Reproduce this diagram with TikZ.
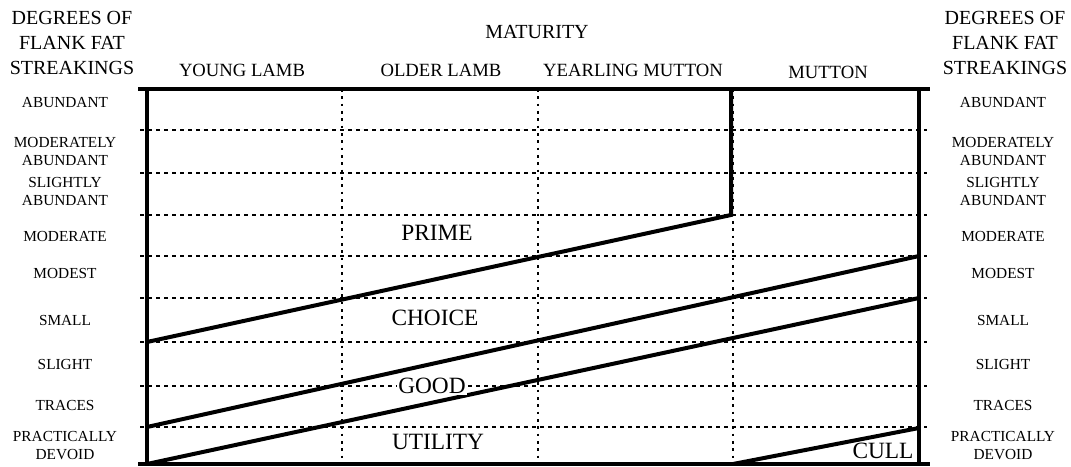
\documentclass[tikz,border=0pt]{standalone}
\usepackage{fontspec}
\setmainfont{Liberation Serif}

\begin{document}
\begin{tikzpicture}[x=0.75pt, y=-0.75pt,
    gridline/.style={line width=0.9pt, dash pattern=on 3pt off 3pt},
    divline/.style={line width=0.9pt, dash pattern=on 2pt off 3.5pt},
    heavy/.style={line width=3pt},
    headlab/.style={font=\fontsize{15}{19}\selectfont, align=center, inner sep=0pt},
    collab/.style={font=\fontsize{14}{16}\selectfont, inner sep=0pt},
    rowlab/.style={font=\fontsize{11.5}{13.5}\selectfont, align=center, inner sep=0pt},
    gradelab/.style={font=\fontsize{17.5}{20}\selectfont, inner sep=1pt}]
    \useasboundingbox (0,0) rectangle (1071,467);

    % Define the corners of the chart
    \coordinate (TL) at (147,89);
    \coordinate (TR) at (919,89);
    \coordinate (BL) at (147,464);
    \coordinate (BR) at (919,464);

    % Draw the dashed rows and the dotted columns
    \foreach \y in {130,173,215,256,298,342,386,427}
        \draw[gridline] (140,\y) -- (927,\y);
    \foreach \x in {342,538,733}
        \draw[divline] (\x,89) -- (\x,464);

    % Draw the frame
    \draw[heavy] (TL) -- (BL);
    \draw[heavy] (TR) -- (BR);
    \draw[heavy] (138,89) -- (930,89);
    \draw[heavy] (138,464) -- (930,464);

    % Define the points of the grade borders
    \coordinate (P1) at (147,342);
    \coordinate (P2) at (731,215);
    \coordinate (P3) at (731,89);
    \coordinate (C1) at (147,427);
    \coordinate (C2) at (919,256);
    \coordinate (G1) at (147,464);
    \coordinate (G2) at (919,298);
    \coordinate (U1) at (733,464);
    \coordinate (U2) at (919,428);

    % Draw the grade borders
    \draw[heavy] (P1) -- (P2) -- (P3);
    \draw[heavy] (C1) -- (C2);
    \draw[heavy] (G1) -- (G2);
    \draw[heavy] (U1) -- (U2);

    % Place the grade labels
    \node[gradelab] (prime) at (437,233) {PRIME};
    \node[gradelab] (choice) at (435,318) {CHOICE};
    \node[gradelab, fill=white] (good) at (432,386) {GOOD};
    \node[gradelab] (utility) at (438,442) {UTILITY};
    \node[gradelab] (cull) at (883,451) {CULL};

    % Place the headings
    \node[headlab] (degl) at (72,43) {DEGREES OF\\FLANK FAT\\STREAKINGS};
    \node[headlab] (degr) at (1005,43) {DEGREES OF\\FLANK FAT\\STREAKINGS};
    \node[headlab] (maturity) at (537,32) {MATURITY};
    \node[collab] (young) at (242,70) {YOUNG LAMB};
    \node[collab] (older) at (441,70) {OLDER LAMB};
    \node[collab] (yearling) at (633,70) {YEARLING MUTTON};
    \node[collab] (mutton) at (828,72) {MUTTON};

    % Place the row labels on both sides
    \foreach \x/\s in {65/l,1003/r} {
        \node[rowlab] (abund\s) at (\x,103) {ABUNDANT};
        \node[rowlab] (modab\s) at (\x,151) {MODERATELY\\ABUNDANT};
        \node[rowlab] (sliab\s) at (\x,191) {SLIGHTLY\\ABUNDANT};
        \node[rowlab] (moderate\s) at (\x,236) {MODERATE};
        \node[rowlab] (modest\s) at (\x,273) {MODEST};
        \node[rowlab] (small\s) at (\x,320) {SMALL};
        \node[rowlab] (slight\s) at (\x,364) {SLIGHT};
        \node[rowlab] (traces\s) at (\x,405) {TRACES};
        \node[rowlab] (devoid\s) at (\x,446) {PRACTICALLY\\DEVOID};
    }

\end{tikzpicture}
\end{document}
